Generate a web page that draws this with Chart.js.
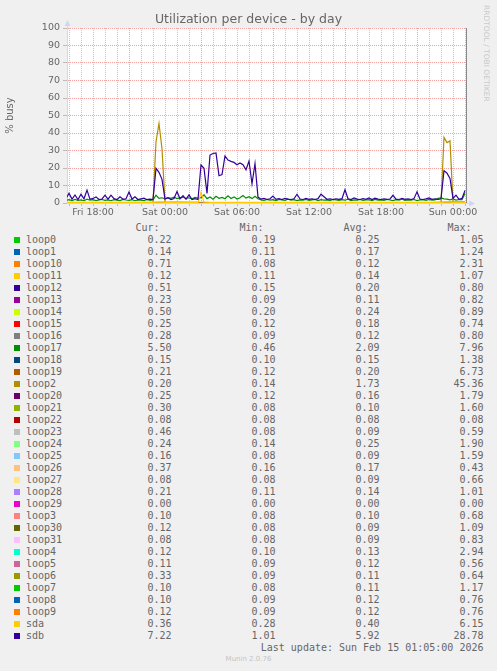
<!DOCTYPE html>
<html>
<head>
<meta charset="utf-8">
<script src="https://cdn.jsdelivr.net/npm/chart.js@4.4.1/dist/chart.umd.min.js"></script>
<style>
body { margin: 0; background: #f0f0f0; width: 497px; height: 671px; overflow: hidden; position: relative; font-family: "DejaVu Sans", sans-serif; color: #666; }
#plot { position: absolute; left: 0; top: 0; }
#title { position: absolute; top: 11px; left: 0; width: 497px; text-align: center; font-size: 12.5px; line-height: 15px; }
#credit { position: absolute; left: 482px; top: 5px; writing-mode: vertical-rl; font-size: 7.5px; color: #c8c8c8; white-space: nowrap; }
#legend div { position: absolute; font-family: "DejaVu Sans Mono", monospace; font-size: 10px; line-height: 12px; white-space: pre; }
#legend .sq { width: 6px; height: 6px; }
#munin { position: absolute; top: 655px; left: 0; width: 497px; text-align: center; font-size: 7px; color: #c4c4c4; }
</style>
</head>
<body>
<canvas id="plot" width="497" height="222"></canvas>
<div id="title">Utilization per device - by day</div>
<div id="credit">RRDTOOL / TOBI OETIKER</div>
<div id="legend"></div>
<div id="munin">Munin 2.0.76</div>
<script>
// time axis, hours since Fri 00:00
const xMin = 15.8333, xMax = 49.0833;
const detailStart = 15.75, detailStep = 0.25;   // 15 minute samples
const coarseStart = 16, coarseStep = 3;         // 3 hour samples
const tickHours = [18, 24, 30, 36, 42, 48];
const tickLabels = ['Fri 18:00', 'Sat 00:00', 'Sat 06:00', 'Sat 12:00', 'Sat 18:00', 'Sun 00:00'];

const seriesNames = ['loop0','loop1','loop10','loop11','loop12','loop13','loop14','loop15','loop16','loop17',
  'loop18','loop19','loop2','loop20','loop21','loop22','loop23','loop24','loop25','loop26','loop27','loop28',
  'loop29','loop3','loop30','loop31','loop4','loop5','loop6','loop7','loop8','loop9','sda','sdb'];
const seriesColors = ['#00CC00','#0066B3','#FF8000','#FFCC00','#330099','#990099','#CCFF00','#FF0000','#808080','#008F00',
  '#00487D','#B35A00','#B38F00','#6B006B','#8FB300','#B30000','#BEBEBE','#80FF80','#80C9FF','#FFC080','#FFE680','#AA80FF',
  '#EE00CC','#FF8080','#666600','#FFBFFF','#00FFCC','#CC6699','#999900','#00CC00','#0066B3','#FF8000','#FFCC00','#330099'];
const curVals = [0.22,0.14,0.71,0.12,0.51,0.23,0.50,0.25,0.28,5.50,0.15,0.21,0.20,0.25,0.30,0.08,0.46,0.24,0.16,0.37,0.08,0.21,0.00,0.10,0.12,0.08,0.12,0.11,0.33,0.10,0.10,0.12,0.36,7.22];
const minVals = [0.19,0.11,0.08,0.11,0.15,0.09,0.20,0.12,0.09,0.46,0.10,0.12,0.14,0.12,0.08,0.08,0.08,0.14,0.08,0.16,0.08,0.11,0.00,0.08,0.08,0.08,0.10,0.09,0.09,0.08,0.09,0.09,0.28,1.01];
const avgVals = [0.25,0.17,0.12,0.14,0.20,0.11,0.24,0.18,0.12,2.09,0.15,0.20,1.73,0.16,0.10,0.08,0.09,0.25,0.09,0.17,0.09,0.14,0.00,0.10,0.09,0.09,0.13,0.12,0.11,0.11,0.12,0.12,0.40,5.92];
const maxVals = [1.05,1.24,2.31,1.07,0.80,0.82,0.89,0.74,0.80,7.96,1.38,6.73,45.36,1.79,1.60,0.08,0.59,1.90,1.59,0.43,0.66,1.01,0.00,0.68,1.09,0.83,2.94,0.56,0.64,1.17,0.76,0.76,6.15,28.78];
const lastUpdate = 'Last update: Sun Feb 15 01:05:00 2026';

// 15 minute series
const sdb = [2.5,5.5,2.2,4.6,2.0,5.0,2.4,7.4,2.1,2.6,
  3.5,2.0,2.3,4.5,2.2,4.5,2.5,2.0,3.5,2.2,
  2.4,6.3,2.3,3.6,2.0,2.4,2.8,1.9,2.2,2.0,
  19.8,17.5,13.5,2.2,3.0,2.0,2.6,6.5,2.4,4.2,
  2.1,4.6,2.0,2.5,2.0,21.7,19.8,5.5,27.4,28.3,
  28.6,15.6,16.2,26.9,24.5,23.8,23.2,21.9,22.9,21.9,
  19.0,24.0,11.0,22.5,3.4,2.2,2.6,2.0,2.4,4.0,
  2.1,2.5,2.0,2.6,2.2,2.0,2.4,5.0,2.3,2.0,
  2.6,2.1,2.4,2.0,2.5,5.0,3.6,2.1,2.4,2.0,
  2.3,2.1,2.5,7.6,2.4,2.0,2.9,2.2,2.0,2.5,
  2.1,2.9,2.0,2.8,2.2,2.0,2.4,2.1,2.3,4.4,
  2.2,2.0,2.7,2.1,2.3,2.0,2.5,6.4,2.2,2.0,
  2.4,2.9,2.1,2.3,2.0,2.4,18.5,17.0,14.0,2.6,
  4.5,2.1,2.6,7.2];
const loop2 = [0.2,0.18,0.22,0.17,0.2,0.19,0.25,0.18,0.2,0.16,
  0.21,0.18,0.2,0.17,0.23,0.19,0.18,0.2,0.16,0.22,
  0.19,0.18,0.2,0.17,0.21,0.18,0.2,0.19,0.17,0.2,
  35.0,45.36,31.0,0.22,0.19,0.2,0.18,0.21,0.17,0.2,
  0.19,0.18,0.2,0.16,0.2,0.22,0.19,0.2,0.18,0.21,
  0.17,0.2,0.19,0.18,0.2,0.16,0.21,0.19,0.18,0.2,
  0.17,0.2,0.18,0.19,0.2,0.16,0.21,0.18,0.2,0.19,
  0.17,0.2,0.18,0.21,0.19,0.16,0.2,0.18,0.19,0.2,
  0.17,0.21,0.18,0.2,0.19,0.16,0.2,0.18,0.21,0.19,
  0.17,0.2,0.18,0.19,0.2,0.16,0.21,0.18,0.2,0.19,
  0.17,0.2,0.18,0.21,0.19,0.16,0.2,0.18,0.19,0.2,
  0.17,0.21,0.18,0.2,0.19,0.16,0.2,0.18,0.21,0.19,
  0.17,0.2,0.18,0.19,0.2,0.18,37.5,34.5,35.5,0.22,
  0.19,0.18,0.2,0.2];
const sda = [0.42,0.38,0.45,0.36,0.4,0.44,0.37,0.41,0.39,0.46,
  0.38,0.42,0.36,0.4,0.43,0.37,0.41,0.39,0.35,0.42,
  0.4,0.37,0.44,0.38,0.41,0.36,0.4,0.43,0.38,0.39,
  0.52,0.48,0.45,0.4,0.37,0.42,0.38,0.41,0.36,0.4,
  0.43,0.38,0.41,0.37,0.4,6.15,0.46,0.42,0.39,0.44,
  0.41,0.38,0.43,0.4,0.37,0.42,0.39,0.45,0.4,0.38,
  0.41,0.44,0.39,0.42,0.37,0.4,0.38,0.43,0.36,0.41,
  0.39,0.37,0.42,0.38,0.4,0.36,0.41,0.44,0.38,0.4,
  0.37,0.42,0.39,0.36,0.41,0.43,0.38,0.4,0.37,0.42,
  0.39,0.36,0.41,0.45,0.38,0.4,0.37,0.43,0.39,0.36,
  0.41,0.38,0.4,0.42,0.37,0.39,0.36,0.41,0.38,0.43,
  0.4,0.37,0.39,0.42,0.36,0.4,0.38,0.44,0.39,0.37,
  0.41,0.38,0.4,0.36,0.42,0.39,0.47,0.45,0.44,0.4,
  0.38,0.37,0.41,0.36];
const loop17 = [1.6,1.9,1.4,2.1,1.5,1.8,1.3,2.2,1.6,1.9,
  1.4,1.7,2.0,1.5,1.8,1.3,1.9,1.6,1.4,2.1,
  1.7,1.5,1.9,1.3,1.8,1.6,1.4,2.0,1.5,1.7,
  4.4,2.6,3.0,2.4,3.1,2.7,3.3,2.5,2.9,3.4,
  2.6,3.0,2.4,3.2,2.8,3.1,4.6,2.5,3.4,2.2,
  3.8,2.7,3.2,2.4,4.1,2.6,3.5,2.3,3.0,4.3,
  2.8,3.6,2.5,3.9,2.4,1.8,1.5,2.1,1.6,1.9,
  1.4,2.0,1.7,1.5,2.2,1.6,1.9,1.4,1.8,1.6,
  2.0,1.5,1.7,2.1,1.4,1.9,1.6,1.8,1.3,2.0,
  1.7,1.5,1.9,1.6,2.2,1.4,1.8,1.6,2.0,1.5,
  1.7,1.9,1.4,2.1,1.6,1.8,1.5,2.0,1.7,1.4,
  1.9,1.6,2.2,1.5,1.8,1.6,2.0,1.4,1.7,1.9,
  1.5,2.1,1.6,1.8,2.6,2.9,2.4,2.2,1.8,2.3,
  1.7,2.0,1.9,5.5];

// 3 hour series
const loop0 = [0.24,0.27,0.22,0.31,0.25,0.28,0.23,0.26,0.24,0.22,0.27,0.22];
const loop1 = [0.16,0.18,0.15,0.22,0.17,0.19,0.16,0.15,0.18,0.16,0.17,0.14];
const loop10 = [0.11,0.12,0.10,0.14,0.12,0.13,0.11,0.10,0.12,0.11,0.13,0.71];
const loop11 = [0.13,0.15,0.13,0.16,0.14,0.15,0.13,0.14,0.13,0.14,0.15,0.12];
const loop12 = [0.19,0.21,0.18,0.24,0.20,0.22,0.19,0.18,0.20,0.19,0.21,0.51];
const loop13 = [0.10,0.11,0.10,0.13,0.11,0.12,0.10,0.10,0.11,0.10,0.12,0.23];
const loop14 = [0.23,0.25,0.22,0.27,0.24,0.26,0.23,0.22,0.24,0.23,0.25,0.50];
const loop15 = [0.17,0.19,0.16,0.21,0.18,0.19,0.17,0.16,0.18,0.17,0.19,0.25];
const loop16 = [0.11,0.12,0.10,0.15,0.12,0.13,0.11,0.10,0.12,0.11,0.12,0.28];
const loop18 = [0.14,0.16,0.13,0.19,0.15,0.16,0.14,0.13,0.15,0.14,0.16,0.15];
const loop19 = [0.18,0.19,0.17,0.31,0.19,0.20,0.18,0.17,0.19,0.18,0.20,0.21];
const loop20 = [0.15,0.16,0.14,0.21,0.16,0.17,0.15,0.14,0.16,0.15,0.16,0.25];
const loop21 = [0.09,0.10,0.09,0.13,0.10,0.11,0.09,0.09,0.10,0.09,0.10,0.30];
const loop22 = [0.08,0.08,0.08,0.08,0.08,0.08,0.08,0.08,0.08,0.08,0.08,0.08];
const loop23 = [0.08,0.09,0.08,0.10,0.09,0.09,0.08,0.08,0.09,0.08,0.09,0.46];
const loop24 = [0.24,0.26,0.23,0.31,0.25,0.27,0.24,0.23,0.25,0.24,0.26,0.24];
const loop25 = [0.08,0.09,0.08,0.12,0.09,0.10,0.08,0.08,0.09,0.08,0.09,0.16];
const loop26 = [0.16,0.17,0.16,0.19,0.17,0.18,0.16,0.16,0.17,0.16,0.18,0.37];
const loop27 = [0.08,0.09,0.08,0.11,0.09,0.10,0.08,0.08,0.09,0.09,0.09,0.08];
const loop28 = [0.13,0.14,0.12,0.17,0.14,0.15,0.13,0.12,0.14,0.13,0.15,0.21];
const loop29 = [0,0,0,0,0,0,0,0,0,0,0,0];
const loop3 = [0.09,0.10,0.09,0.12,0.10,0.11,0.09,0.09,0.10,0.09,0.10,0.10];
const loop30 = [0.08,0.09,0.08,0.11,0.09,0.10,0.08,0.08,0.09,0.08,0.09,0.12];
const loop31 = [0.08,0.09,0.08,0.11,0.09,0.10,0.08,0.09,0.09,0.08,0.09,0.08];
const loop4 = [0.12,0.13,0.11,0.18,0.13,0.14,0.12,0.11,0.13,0.12,0.13,0.12];
const loop5 = [0.11,0.12,0.10,0.14,0.12,0.13,0.11,0.10,0.12,0.11,0.12,0.11];
const loop6 = [0.10,0.11,0.09,0.13,0.11,0.12,0.10,0.09,0.11,0.10,0.11,0.33];
const loop7 = [0.10,0.11,0.09,0.14,0.11,0.12,0.10,0.09,0.11,0.10,0.11,0.10];
const loop8 = [0.11,0.12,0.10,0.15,0.12,0.13,0.11,0.10,0.12,0.11,0.12,0.10];
const loop9 = [0.11,0.12,0.10,0.15,0.12,0.13,0.11,0.10,0.12,0.11,0.12,0.12];

const detailSeries = { loop17: loop17, loop2: loop2, sda: sda, sdb: sdb };
const coarseSeries = { loop0, loop1, loop10, loop11, loop12, loop13, loop14, loop15, loop16, loop18, loop19,
  loop20, loop21, loop22, loop23, loop24, loop25, loop26, loop27, loop28, loop29, loop3, loop30, loop31,
  loop4, loop5, loop6, loop7, loop8, loop9 };

const majorGrid = 'rgba(235,100,100,0.6)';
const minorGrid = 'rgba(140,140,140,0.5)';
const axisColor = '#CFD6F8';

function toPoints(name) {
    if (detailSeries[name]) {
        return detailSeries[name].map((v, i) => ({ x: detailStart + i * detailStep, y: v }));
    }
    return coarseSeries[name].map((v, i) => ({ x: coarseStart + i * coarseStep, y: v }));
}

const datasets = seriesNames.map((name, idx) => ({
    label: name,
    data: toPoints(name),
    borderColor: seriesColors[idx],
    backgroundColor: seriesColors[idx],
    borderWidth: 1.2,
    pointRadius: 0,
    tension: 0,
    order: seriesNames.length - idx
}));

// white canvas, arrows and right frame line, munin style
const frameDeco = {
    id: 'frameDeco',
    beforeDraw(chart) {
        const ctx = chart.ctx, a = chart.chartArea;
        ctx.save();
        ctx.fillStyle = '#fff';
        ctx.fillRect(a.left, a.top, a.right - a.left, a.bottom - a.top);
        ctx.restore();
    },
    afterDraw(chart) {
        const ctx = chart.ctx, a = chart.chartArea;
        ctx.save();
        ctx.strokeStyle = '#888';
        ctx.lineWidth = 1;
        ctx.beginPath();
        ctx.moveTo(a.right + 0.5, a.top);
        ctx.lineTo(a.right + 0.5, a.bottom);
        ctx.stroke();
        ctx.strokeStyle = axisColor;
        ctx.beginPath();
        ctx.moveTo(a.left + 0.5, a.top);
        ctx.lineTo(a.left + 0.5, a.top - 5);
        ctx.moveTo(a.right, a.bottom + 0.5);
        ctx.lineTo(a.right + 6, a.bottom + 0.5);
        ctx.stroke();
        ctx.fillStyle = axisColor;
        ctx.beginPath();
        ctx.moveTo(a.left - 2.5, a.top - 2);
        ctx.lineTo(a.left + 3.5, a.top - 2);
        ctx.lineTo(a.left + 0.5, a.top - 8);
        ctx.closePath();
        ctx.fill();
        ctx.beginPath();
        ctx.moveTo(a.right + 3, a.bottom - 2.5);
        ctx.lineTo(a.right + 3, a.bottom + 3.5);
        ctx.lineTo(a.right + 9, a.bottom + 0.5);
        ctx.closePath();
        ctx.fill();
        ctx.restore();
    }
};

const tickFont = { family: 'DejaVu Sans', size: 9.5 };

new Chart(document.getElementById('plot').getContext('2d'), {
    type: 'line',
    data: { datasets: datasets },
    options: {
        responsive: false,
        animation: false,
        layout: { padding: { left: 0, top: 28, right: 31, bottom: 0 } },
        plugins: { legend: { display: false }, tooltip: { enabled: false } },
        scales: {
            x: {
                type: 'linear',
                min: xMin,
                max: xMax,
                ticks: {
                    stepSize: 1,
                    includeBounds: false,
                    autoSkip: false,
                    maxRotation: 0,
                    padding: 1,
                    color: '#666',
                    font: tickFont,
                    callback: v => {
                        const k = tickHours.indexOf(Math.round(v));
                        return k >= 0 ? tickLabels[k] : '';
                    }
                },
                grid: {
                    color: c => (c.tick && Math.round(c.tick.value) % 6 === 3) ? majorGrid : minorGrid,
                    tickLength: 3,
                    tickColor: '#bbb',
                    tickBorderDash: []
                },
                border: { color: axisColor, dash: [1, 1] },
                afterFit: s => { s.height = 19; }
            },
            y: {
                min: 0,
                max: 100,
                ticks: {
                    stepSize: 5,
                    padding: 3,
                    color: '#666',
                    font: tickFont,
                    callback: v => (v % 10 === 0 ? v : '')
                },
                grid: {
                    color: c => (c.tick && c.tick.value % 10 === 0) ? majorGrid : minorGrid,
                    tickLength: 4,
                    tickColor: '#bbb',
                    tickBorderDash: []
                },
                border: { color: axisColor, dash: [1, 1] },
                title: { display: true, text: '% busy', color: '#666', font: { family: 'DejaVu Sans', size: 10 }, padding: { top: 4, bottom: 0 } },
                afterFit: s => { s.width = 67; }
            }
        }
    },
    plugins: [frameDeco]
});

// legend table below the plot
const legend = document.getElementById('legend');
function addText(text, top, opts) {
    const d = document.createElement('div');
    d.textContent = text;
    d.style.top = top + 'px';
    if (opts.right !== undefined) { d.style.right = (497 - opts.right) + 'px'; d.style.textAlign = 'right'; }
    else d.style.left = opts.left + 'px';
    legend.appendChild(d);
}
const firstRow = 239.5, rowStep = 12;
const colRight = [171.5, 275.5, 379.5, 483.5];
['Cur:', 'Min:', 'Avg:', 'Max:'].forEach((h, j) => addText(h, firstRow - rowStep - 6, { right: colRight[j] - 12 }));
seriesNames.forEach((name, i) => {
    const cy = firstRow + i * rowStep;
    const sq = document.createElement('div');
    sq.className = 'sq';
    sq.style.left = '14px';
    sq.style.top = (cy - 3) + 'px';
    sq.style.background = seriesColors[i];
    legend.appendChild(sq);
    addText(name, cy - 6, { left: 26 });
    [curVals, minVals, avgVals, maxVals].forEach((arr, j) => addText(arr[i].toFixed(2), cy - 6, { right: colRight[j] }));
});
addText(lastUpdate, firstRow + seriesNames.length * rowStep - 6, { right: colRight[3] });
</script>
</body>
</html>
